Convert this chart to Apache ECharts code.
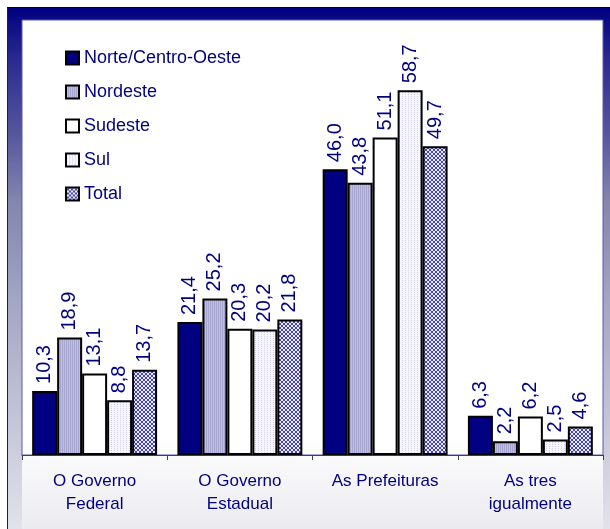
<!DOCTYPE html>
<html>
<head>
<meta charset="utf-8">
<script src="https://cdn.jsdelivr.net/npm/echarts@6/dist/echarts.min.js"></script>
<style>
  html, body { margin: 0; padding: 0; background: #ffffff; }
  #chart { width: 610px; height: 529px; }
</style>
</head>
<body>
<div id="chart"></div>
<script>
// Categories and series values (percent)
const categories = ['O Governo\nFederal', 'O Governo\nEstadual', 'As Prefeituras', 'As tres\nigualmente'];
const seriesNames = ['Norte/Centro-Oeste', 'Nordeste', 'Sudeste', 'Sul', 'Total'];
const norteCentroOeste = [10.3, 21.4, 46.0, 6.3];
const nordeste = [18.9, 25.2, 43.8, 2.2];
const sudeste = [13.1, 20.3, 51.1, 6.2];
const sul = [8.8, 20.2, 58.7, 2.5];
const total = [13.7, 21.8, 49.7, 4.6];

const FONT = '"Liberation Sans", Arial, sans-serif';
const NAVY = '#000080';

// Small tiled canvases used as bar fill patterns
function makePattern(w, h, draw) {
  const c = document.createElement('canvas');
  c.width = w; c.height = h;
  const ctx = c.getContext('2d');
  draw(ctx);
  return { image: c, repeat: 'repeat' };
}
// Nordeste: fine vertical stripes of lavender
const nordesteFill = makePattern(2, 2, ctx => {
  ctx.fillStyle = '#bebede'; ctx.fillRect(0, 0, 2, 2);
  ctx.fillStyle = '#a6a6d0'; ctx.fillRect(0, 0, 1, 2);
});
// Sul: pale dotted vertical lines
const sulFill = makePattern(3, 2, ctx => {
  ctx.fillStyle = '#f6f6fc'; ctx.fillRect(0, 0, 3, 2);
  ctx.fillStyle = '#d0d0ec'; ctx.fillRect(0, 0, 1, 1);
});
// Total: dense diagonal cross-hatch
const totalFill = makePattern(4, 4, ctx => {
  ctx.fillStyle = '#e8e8f8'; ctx.fillRect(0, 0, 4, 4);
  ctx.fillStyle = '#4848b4';
  for (let i = 0; i < 4; i++) {
    ctx.fillRect(i, i, 1, 1);
    ctx.fillRect(3 - i, i, 1, 1);
  }
});

const fills = [NAVY, nordesteFill, '#ffffff', sulFill, totalFill];
const dataSets = [norteCentroOeste, nordeste, sudeste, sul, total];

const fmt = v => v.toFixed(1).replace('.', ',');

const series = seriesNames.map((name, i) => ({
  name: name,
  type: 'bar',
  data: dataSets[i],
  barGap: '0%',
  barCategoryGap: '14%',
  itemStyle: { color: fills[i], borderColor: '#000000', borderWidth: 2 },
  label: {
    show: true,
    position: 'top',
    rotate: 90,
    align: 'left',
    verticalAlign: 'middle',
    distance: 7,
    color: NAVY,
    fontSize: 20,
    fontFamily: FONT,
    formatter: p => fmt(p.value)
  }
}));

const chart = echarts.init(document.getElementById('chart'), null, { renderer: 'canvas' });
chart.setOption({
  animation: false,
  backgroundColor: '#ffffff',
  graphic: [
    {
      type: 'rect', z: -10, silent: true,
      shape: { x: 7, y: 7, width: 603, height: 522 },
      style: {
        fill: new echarts.graphic.LinearGradient(0, 0, 0, 1, [
          { offset: 0, color: '#000080' },
          { offset: 0.1, color: '#2a2a90' },
          { offset: 0.24, color: '#55559e' },
          { offset: 0.37, color: '#8484ae' },
          { offset: 0.56, color: '#a4a4c4' },
          { offset: 1, color: '#e2e2ea' }
        ])
      }
    },
    {
      type: 'rect', z: -9, silent: true,
      shape: { x: 22, y: 20, width: 581, height: 509 },
      style: {
        fill: new echarts.graphic.LinearGradient(0, 0, 0, 1, [
          { offset: 0, color: '#ffffff' },
          { offset: 0.82, color: '#ffffff' },
          { offset: 1, color: '#eaeaf0' }
        ])
      }
    },
    {
      type: 'line', z: -8, silent: true,
      shape: { x1: 7.5, y1: 7, x2: 7.5, y2: 529 },
      style: { stroke: '#222222', lineWidth: 1 }
    },
    {
      type: 'line', z: -8, silent: true,
      shape: { x1: 7, y1: 7.5, x2: 610, y2: 7.5 },
      style: { stroke: '#000030', lineWidth: 1 }
    }
  ],
  grid: {
    left: 22, right: 7, top: 20, bottom: 74,
    show: true,
    backgroundColor: 'transparent',
    borderColor: '#5a5aac',
    borderWidth: 1,
    containLabel: false
  },
  legend: {
    orient: 'vertical',
    left: 65,
    top: 49,
    padding: 0,
    icon: 'rect',
    itemWidth: 13,
    itemHeight: 13,
    itemGap: 16,
    textStyle: { color: NAVY, fontSize: 18, fontFamily: FONT },
    data: seriesNames
  },
  xAxis: {
    type: 'category',
    data: categories,
    axisLine: { show: true, lineStyle: { color: '#404040', width: 1 } },
    axisTick: { show: true, length: 5, lineStyle: { color: '#404040' } },
    axisLabel: {
      color: NAVY, fontSize: 17, fontFamily: FONT,
      lineHeight: 23, margin: 15, interval: 0
    }
  },
  yAxis: {
    type: 'value',
    min: 0, max: 70, interval: 10,
    show: true,
    axisLine: { show: false },
    axisTick: { show: false },
    axisLabel: { show: false },
    splitLine: { show: false }
  },
  series: series
});
</script>
</body>
</html>
